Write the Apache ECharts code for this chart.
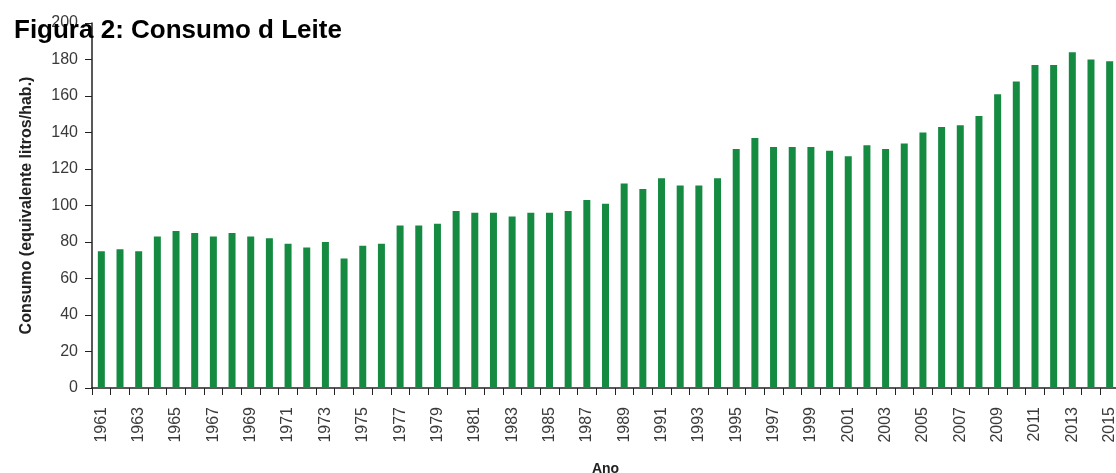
<!DOCTYPE html>
<html>
<head>
<meta charset="utf-8">
<title>Consumo de Leite</title>
<script src="https://cdn.jsdelivr.net/npm/echarts@6/dist/echarts.min.js"></script>
<style>
  html, body { margin: 0; padding: 0; background: #fff; }
  #main { width: 1116px; height: 473px; }
</style>
</head>
<body>
<div id="main"></div>
<script>
// anos (eixo x)
var anos = ['1961', '1962', '1963', '1964', '1965', '1966', '1967', '1968', '1969', '1970',
  '1971', '1972', '1973', '1974', '1975', '1976', '1977', '1978', '1979', '1980',
  '1981', '1982', '1983', '1984', '1985', '1986', '1987', '1988', '1989', '1990',
  '1991', '1992', '1993', '1994', '1995', '1996', '1997', '1998', '1999', '2000',
  '2001', '2002', '2003', '2004', '2005', '2006', '2007', '2008', '2009', '2010',
  '2011', '2012', '2013', '2014', '2015'];

// consumo em litros/hab.
var consumo = [75, 76, 75, 83, 86, 85, 83, 85, 83, 82,
  79, 77, 80, 71, 78, 79, 89, 89, 90, 97,
  96, 96, 94, 96, 96, 97, 103, 101, 112, 109,
  115, 111, 111, 115, 131, 137, 132, 132, 132, 130,
  127, 133, 131, 134, 140, 143, 144, 149, 161, 168,
  177, 177, 184, 180, 179];

// ticks do eixo y
var yMin = 0;
var yMax = 200;
var yPasso = 20;

var chart = echarts.init(document.getElementById('main'), null, { renderer: 'canvas' });

var fonte = '"Liberation Sans", Arial, sans-serif';

var option = {
  backgroundColor: '#fff',
  animation: false,
  title: {
    text: 'Figura 2: Consumo d Leite',
    left: 9,
    top: 13,
    textStyle: {
      fontFamily: fonte,
      fontSize: 26,
      fontWeight: 'bold',
      color: '#000'
    }
  },
  grid: {
    left: 92,
    top: 23,
    width: 1027,
    height: 365,
    containLabel: false,
    outerBoundsMode: 'none'  // nao encolher o grid por causa dos rotulos
  },
  xAxis: {
    type: 'category',
    data: anos,
    boundaryGap: true,
    name: 'Ano',
    nameLocation: 'middle',
    nameGap: 74,
    nameTextStyle: {
      fontFamily: fonte,
      fontSize: 14,
      fontWeight: 'bold',
      color: '#222'
    },
    axisLine: { lineStyle: { color: '#222', width: 1.5 } },
    axisTick: {
      show: true,
      alignWithLabel: false,
      interval: 0,
      length: 7,
      lineStyle: { color: '#222' }
    },
    axisLabel: {
      interval: 1,
      rotate: 90,
      margin: 19,
      fontFamily: fonte,
      fontSize: 16,
      color: '#3a3a3a'
    }
  },
  yAxis: {
    type: 'value',
    min: yMin,
    max: yMax,
    interval: yPasso,
    name: 'Consumo (equivalente litros/hab.)',
    nameLocation: 'middle',
    nameGap: 57,
    nameTextStyle: {
      fontFamily: fonte,
      fontSize: 16,
      fontWeight: 'bold',
      color: '#222'
    },
    axisLine: { show: true, lineStyle: { color: '#222', width: 1.5 } },
    axisTick: { show: true, length: 7, lineStyle: { color: '#222' } },
    splitLine: { show: false },
    axisLabel: {
      margin: 14,
      fontFamily: fonte,
      fontSize: 16,
      color: '#3a3a3a'
    }
  },
  series: [{
    name: 'Consumo',
    type: 'bar',
    data: consumo,
    barWidth: 7,
    itemStyle: { color: '#158B42' }
  }]
};

chart.setOption(option);
</script>
</body>
</html>
